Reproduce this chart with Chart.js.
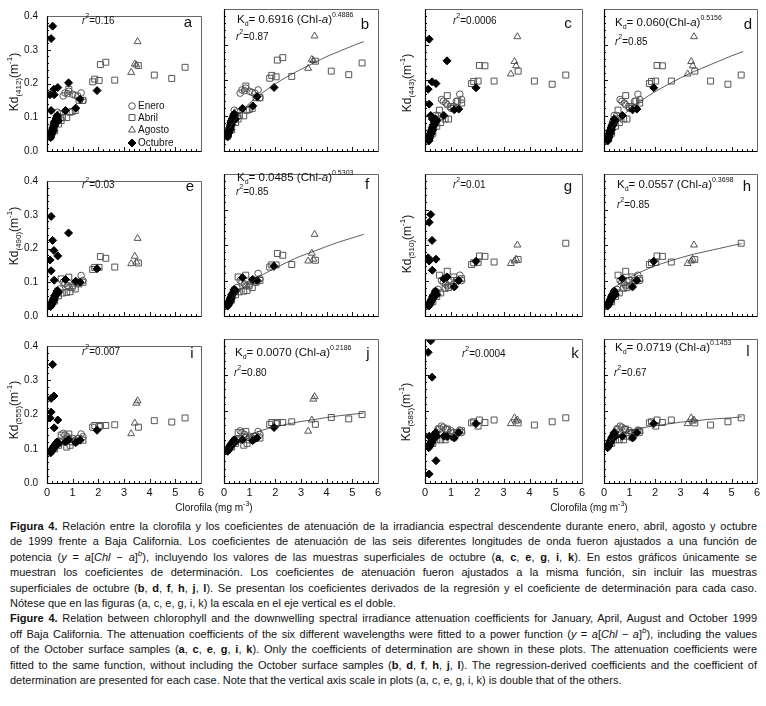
<!DOCTYPE html>
<html lang="es">
<head>
<meta charset="utf-8">
<title>Figura 4</title>
<script src="https://cdn.jsdelivr.net/npm/chart.js@4.4.1/dist/chart.umd.min.js"></script>
<style>
  html, body { margin: 0; padding: 0; background: #fff; }
  body { position: relative; width: 766px; height: 706px; overflow: hidden;
         font-family: "Liberation Sans", Arial, sans-serif; color: #111; }
  canvas { position: absolute; }
  .ann { position: absolute; white-space: nowrap; line-height: 1; color: #111;
         font-family: "Liberation Sans Narrow", "Liberation Sans", Arial, sans-serif;
         font-size: 10px; transform: translateY(-50%); }
  .ann.f { font-size: 11.5px; }
  .ann sup, .ann sub, .eje sup, .eje sub, .xt sup { position: relative; vertical-align: baseline; font-size: 7px; }
  .ann sup { top: -6px; }
  .ann sub { top: 3px; }
  .letra { position: absolute; font-size: 15px; line-height: 1; transform: translate(-50%, -50%); }
  .eje { position: absolute; white-space: nowrap; font-size: 12px; line-height: 1;
         transform: translate(-50%, -50%) rotate(-90deg); }
  .eje sub { top: 3px; font-size: 8px; }
  .eje sup { top: -6px; font-size: 8px; }
  .xt { position: absolute; white-space: nowrap; font-size: 10px; line-height: 1;
        font-family: "Liberation Sans Narrow", "Liberation Sans", Arial, sans-serif;
        transform: translate(-50%, -50%); }
  .xt sup { top: -5px; }
  #pie { position: absolute; left: 10px; top: 519px; width: 747px; font-size: 11px; line-height: 15.4px; color: #111; }
  #pie div { text-align: justify; text-align-last: justify; }
  #pie div.fin { text-align-last: left; }
  #pie sup { font-size: 8px; line-height: 0; }
</style>
</head>
<body>
<div id="pie">
  <div><b>Figura 4.</b> Relación entre la clorofila y los coeficientes de atenuación de la irradiancia espectral descendente durante enero, abril, agosto y octubre</div>
  <div>de 1999 frente a Baja California. Los coeficientes de atenuación de las seis diferentes longitudes de onda fueron ajustados a una función de</div>
  <div>potencia (<i>y</i> = <i>a</i>[<i>Chl</i> − <i>a</i>]<sup><i>b</i></sup>), incluyendo los valores de las muestras superficiales de octubre (<b>a</b>, <b>c</b>, <b>e</b>, <b>g</b>, <b>i</b>, <b>k</b>). En estos gráficos únicamente se</div>
  <div>muestran los coeficientes de determinación. Los coeficientes de atenuación fueron ajustados a la misma función, sin incluir las muestras</div>
  <div>superficiales de octubre (<b>b</b>, <b>d</b>, <b>f</b>, <b>h</b>, <b>j</b>, <b>l</b>). Se presentan los coeficientes derivados de la regresión y el coeficiente de determinación para cada caso.</div>
  <div class="fin">Nótese que en las figuras (a, c, e, g, i, k) la escala en el eje vertical es el doble.</div>
  <div><b>Figure 4.</b> Relation between chlorophyll and the downwelling spectral irradiance attenuation coefficients for January, April, August and October 1999</div>
  <div>off Baja California. The attenuation coefficients of the six different wavelengths were fitted to a power function (<i>y</i> = <i>a</i>[<i>Chl</i> − <i>a</i>]<sup><i>b</i></sup>), including the values</div>
  <div>of the October surface samples (<b>a</b>, <b>c</b>, <b>e</b>, <b>g</b>, <b>i</b>, <b>k</b>). Only the coefficients of determination are shown in these plots. The attenuation coefficients were</div>
  <div>fitted to the same function, without including the October surface samples (<b>b</b>, <b>d</b>, <b>f</b>, <b>h</b>, <b>j</b>, <b>l</b>). The regression-derived coefficients and the coefficient of</div>
  <div class="fin">determination are presented for each case. Note that the vertical axis scale in plots (a, c, e, g, i, k) is double that of the others.</div>
</div>
<script>
// ---- data ----
const meses = ['Enero', 'Abril', 'Agosto', 'Octubre'];
const bandas = ['412', '443', '490', '510', '555', '585'];
const letras = ['a', 'b', 'c', 'd', 'e', 'f', 'g', 'h', 'i', 'j', 'k', 'l'];
const r2Todas = ['0.16', '0.0006', '0.03', '0.01', '0.007', '0.0004'];
const r2SinSup = ['0.87', '0.85', '0.85', '0.85', '0.80', '0.67'];
const coefA = ['0.6916', '0.060', '0.0485', '0.0557', '0.0070', '0.0719'];
const coefB = ['0.4886', '0.5156', '0.5303', '0.3698', '0.2186', '0.1453'];

// chlorophyll (mg m-3) of each sample, per cruise
const eneroChl = [0.15, 0.18, 0.2, 0.22, 0.25, 0.28, 0.3, 0.33, 0.36, 0.4, 0.45, 0.5, 0.63, 0.7, 0.8, 0.85, 1.0, 1.1, 1.2, 1.33, 1.4];
const abrilChl = [0.3, 0.45, 0.55, 0.6, 0.77, 0.85, 0.9, 0.98, 1.1, 1.25, 1.4, 1.78, 1.86, 2.03, 2.08, 2.29, 2.64, 3.56, 4.18, 4.86, 5.38];
const agostoChl = [3.28, 3.42, 3.48, 3.53];
const octubreChl = [0.14, 0.15, 0.17, 0.18, 0.19, 0.2, 0.21, 0.22, 0.24, 0.25, 0.26, 0.27, 0.28, 0.3, 0.32, 0.34, 0.35, 0.38, 0.4, 0.45, 0.72, 1.12, 1.29, 1.95];
const octSupChl = [0.12, 0.16, 0.16, 0.22, 0.27, 0.28, 0.42, 0.84];

// Kd (m-1) per wavelength
const enero412 = [0.04, 0.05, 0.06, 0.055, 0.07, 0.08, 0.075, 0.09, 0.1, 0.115, 0.1, 0.11, 0.163, 0.172, 0.17, 0.177, 0.168, 0.165, 0.163, 0.172, 0.15];
const enero443 = [0.035, 0.045, 0.05, 0.05, 0.06, 0.07, 0.065, 0.08, 0.085, 0.1, 0.09, 0.1, 0.145, 0.14, 0.135, 0.13, 0.12, 0.125, 0.14, 0.16, 0.145];
const enero490 = [0.03, 0.035, 0.04, 0.04, 0.045, 0.05, 0.05, 0.06, 0.065, 0.075, 0.07, 0.08, 0.1, 0.095, 0.09, 0.085, 0.09, 0.1, 0.1, 0.12, 0.105];
const enero510 = [0.03, 0.035, 0.04, 0.04, 0.045, 0.05, 0.05, 0.055, 0.06, 0.07, 0.065, 0.075, 0.1, 0.095, 0.09, 0.085, 0.085, 0.09, 0.1, 0.115, 0.1];
const enero555 = [0.09, 0.095, 0.1, 0.1, 0.1, 0.105, 0.105, 0.11, 0.11, 0.12, 0.115, 0.12, 0.145, 0.14, 0.135, 0.13, 0.13, 0.125, 0.13, 0.143, 0.135];
const enero585 = [0.1, 0.105, 0.11, 0.11, 0.115, 0.12, 0.12, 0.125, 0.13, 0.135, 0.14, 0.15, 0.158, 0.155, 0.15, 0.148, 0.145, 0.14, 0.14, 0.147, 0.14];

const abril412 = [0.06, 0.08, 0.09, 0.1, 0.099, 0.183, 0.115, 0.117, 0.12, 0.15, 0.15, 0.205, 0.213, 0.209, 0.256, 0.263, 0.21, 0.253, 0.225, 0.215, 0.248];
const abril443 = [0.05, 0.07, 0.115, 0.08, 0.09, 0.156, 0.09, 0.125, 0.12, 0.14, 0.135, 0.19, 0.196, 0.197, 0.241, 0.24, 0.197, 0.225, 0.197, 0.188, 0.214];
const abril490 = [0.045, 0.06, 0.11, 0.068, 0.07, 0.115, 0.072, 0.085, 0.08, 0.095, 0.1, 0.138, 0.144, 0.144, 0.176, 0.171, 0.145, 0.157, null, null, null];
const abril510 = [0.04, 0.055, 0.115, 0.065, 0.078, 0.126, 0.08, 0.1, 0.11, 0.1, 0.105, 0.145, 0.15, 0.151, 0.169, 0.168, 0.152, 0.159, null, null, 0.205];
const abril555 = [0.1, 0.11, 0.14, 0.12, 0.105, 0.143, 0.11, 0.12, 0.12, 0.13, 0.125, 0.163, 0.168, 0.165, 0.168, 0.168, 0.17, 0.163, 0.182, 0.178, 0.19];
const abril585 = [0.11, 0.12, 0.15, 0.12, 0.12, 0.15, 0.13, 0.14, 0.127, 0.14, 0.145, 0.167, 0.17, 0.158, 0.175, 0.168, 0.175, 0.167, 0.161, 0.17, 0.181];

const agosto412 = [0.233, 0.258, 0.255, 0.324];
const agosto443 = [0.217, 0.252, 0.24, 0.322];
const agosto490 = [0.155, 0.177, 0.16, 0.23];
const agosto510 = [0.148, 0.155, 0.16, 0.2];
const agosto555 = [0.144, 0.175, 0.233, 0.24];
const agosto585 = [0.165, 0.181, 0.172, 0.175];

const oct412 = [0.04, 0.045, 0.05, 0.052, 0.055, 0.06, 0.058, 0.065, 0.07, 0.06, 0.075, 0.08, 0.085, 0.075, 0.09, 0.088, 0.095, 0.1, 0.105, 0.09, 0.12, 0.127, 0.153, 0.179];
const oct443 = [0.028, 0.03, 0.035, 0.038, 0.04, 0.045, 0.048, 0.05, 0.055, 0.05, 0.058, 0.06, 0.065, 0.06, 0.07, 0.072, 0.075, 0.08, 0.09, 0.085, 0.1, 0.116, 0.118, 0.178];
const oct490 = [0.028, 0.03, 0.035, 0.034, 0.035, 0.04, 0.042, 0.04, 0.045, 0.05, 0.048, 0.05, 0.055, 0.06, 0.06, 0.062, 0.065, 0.07, 0.075, 0.07, 0.108, 0.103, 0.1, 0.14];
const oct510 = [0.028, 0.03, 0.033, 0.034, 0.035, 0.038, 0.04, 0.04, 0.042, 0.045, 0.046, 0.048, 0.05, 0.055, 0.058, 0.06, 0.06, 0.065, 0.07, 0.06, 0.105, 0.082, 0.1, 0.154];
const oct555 = [0.088, 0.09, 0.092, 0.094, 0.095, 0.097, 0.098, 0.1, 0.1, 0.102, 0.104, 0.105, 0.107, 0.11, 0.112, 0.113, 0.115, 0.118, 0.12, 0.115, 0.12, 0.118, 0.125, 0.154];
const oct585 = [0.098, 0.1, 0.102, 0.104, 0.105, 0.108, 0.109, 0.11, 0.112, 0.115, 0.116, 0.118, 0.12, 0.125, 0.128, 0.129, 0.13, 0.135, 0.14, 0.13, 0.13, 0.125, 0.14, 0.165];

// October surface samples (only in a, c, e, g, i, k)
const octSup412 = [0.167, 0.333, 0.12, 0.37, 0.183, 0.167, 0.188, 0.202];
const octSup443 = [0.174, 0.315, 0.132, 0.1, 0.195, 0.09, 0.19, 0.254];
const octSup490 = [0.166, 0.295, 0.134, 0.224, 0.194, 0.106, 0.178, 0.246];
const octSup510 = [0.164, 0.264, 0.155, 0.286, 0.213, 0.129, 0.16, 0.11];
const octSup555 = [0.19, 0.247, 0.207, 0.346, 0.254, 0.161, 0.184, 0.126];
const octSup585 = [0.363, 0.025, 0.13, 0.395, 0.294, 0.12, 0.062, 0.129];

// fitted curves, points
const ajuste412 = [[0.2, 0.063], [0.5, 0.095], [1, 0.135], [1.5, 0.164], [2, 0.189], [2.5, 0.211], [3, 0.23], [3.5, 0.248], [4, 0.266], [4.5, 0.281], [5, 0.296], [5.44, 0.308]];
const ajuste443 = [[0.3, 0.063], [0.5, 0.082], [1, 0.117], [1.5, 0.144], [2, 0.167], [2.5, 0.187], [3, 0.206], [3.5, 0.223], [4, 0.238], [4.5, 0.253], [5, 0.268], [5.46, 0.28]];
const ajuste490 = [[0.25, 0.045], [0.5, 0.065], [1, 0.094], [1.5, 0.116], [2, 0.135], [2.5, 0.153], [3, 0.169], [3.5, 0.182], [4, 0.196], [4.5, 0.209], [5, 0.22], [5.44, 0.23]];
const ajuste510 = [[0.25, 0.065], [0.5, 0.085], [1, 0.109], [1.5, 0.126], [2, 0.141], [2.5, 0.153], [3, 0.164], [3.5, 0.174], [4, 0.182], [4.5, 0.19], [5, 0.198], [5.4, 0.204]];
const ajuste555 = [[0.2, 0.095], [0.5, 0.115], [1, 0.134], [1.5, 0.147], [2, 0.156], [2.5, 0.164], [3, 0.171], [3.5, 0.176], [4, 0.182], [4.5, 0.187], [5, 0.191], [5.44, 0.194]];
const ajuste585 = [[0.2, 0.115], [0.5, 0.13], [1, 0.144], [1.5, 0.153], [2, 0.159], [2.5, 0.164], [3, 0.169], [3.5, 0.172], [4, 0.176], [4.5, 0.179], [5, 0.181], [5.4, 0.184]];

const eneroKd = [enero412, enero443, enero490, enero510, enero555, enero585];
const abrilKd = [abril412, abril443, abril490, abril510, abril555, abril585];
const agostoKd = [agosto412, agosto443, agosto490, agosto510, agosto555, agosto585];
const octKd = [oct412, oct443, oct490, oct510, oct555, oct585];
const octSupKd = [octSup412, octSup443, octSup490, octSup510, octSup555, octSup585];
const ajustes = [ajuste412, ajuste443, ajuste490, ajuste510, ajuste555, ajuste585];

// ---- layout ----
const colX = [[47, 201], [224, 378], [425, 582], [604, 757]];
const rowY = [[9, 151], [174, 316], [339, 483]];
const PL = 40, PT = 8, PR = 8, PB = 20;
const fuente = '"Liberation Sans Narrow", "Liberation Sans", Arial, sans-serif';

const posLetra = [[188, 21], [365, 23], [568, 22], [748, 23], [190, 185], [367, 183], [568, 185], [747, 185], [192, 352], [368, 352], [575, 352], [748, 350]];
const posR2Todas = [[82, 21], [453, 21], [82, 185], [453, 185], [82, 352], [462, 354]];
const posFormula = [[237, 20], [615, 23], [237, 178], [617, 185], [235, 353], [615, 348]];
const posR2Sin = [[236, 37], [615, 42], [236, 192], [617, 205], [234, 373], [614, 373]];
const posEje = [[14, 82], [407, 83], [14, 236], [407, 244], [14, 410], [406, 412]];

const estilos = [
  { pointStyle: 'circle', radius: 3.3, borderColor: '#555', backgroundColor: 'rgba(0,0,0,0)' },
  { pointStyle: 'rect', radius: 4.2, borderColor: '#555', backgroundColor: 'rgba(0,0,0,0)' },
  { pointStyle: 'triangle', radius: 4, borderColor: '#555', backgroundColor: 'rgba(0,0,0,0)' },
  { pointStyle: 'rectRot', radius: 4, borderColor: '#000', backgroundColor: '#000' }
];

function pares(xs, ys) {
  return xs.map((x, i) => ({ x: x, y: ys[i] })).filter(p => p.y !== null);
}

const marco = {
  id: 'marco',
  afterDatasetsDraw(chart) {
    const { ctx, chartArea: ca, scales: { x, y } } = chart;
    ctx.save();
    ctx.lineWidth = 1;
    ctx.strokeStyle = '#111';
    ctx.beginPath();
    for (let i = 0; i <= 30; i++) {
      const px = Math.round(x.getPixelForValue(i * 0.2)) + 0.5;
      const len = i % 5 === 0 ? 4 : 2;
      ctx.moveTo(px, ca.bottom);
      ctx.lineTo(px, ca.bottom - len);
    }
    for (let i = 0; i <= 20; i++) {
      const py = Math.round(y.getPixelForValue(i * 0.02)) + 0.5;
      const len = i % 5 === 0 ? 4 : 2;
      ctx.moveTo(ca.left, py);
      ctx.lineTo(ca.left + len, py);
    }
    ctx.stroke();
    const l = Math.round(ca.left) + 0.5, r = Math.round(ca.right) + 0.5;
    const t = Math.round(ca.top) + 0.5, b = Math.round(ca.bottom) + 0.5;
    ctx.strokeStyle = '#666';
    ctx.beginPath();
    ctx.moveTo(l, t); ctx.lineTo(r, t); ctx.lineTo(r, b);
    ctx.stroke();
    ctx.strokeStyle = '#000';
    ctx.lineWidth = 1.2;
    ctx.beginPath();
    ctx.moveTo(l, t); ctx.lineTo(l, b); ctx.lineTo(r, b);
    ctx.stroke();
    ctx.restore();
  }
};

// legend drawn inside panel a
const leyenda = {
  id: 'leyenda',
  afterDraw(chart, args, opts) {
    if (!opts.mostrar) return;
    const { ctx, chartArea: ca } = chart;
    const filas = [90, 101.5, 114, 127];
    ctx.save();
    ctx.font = '10px ' + fuente;
    ctx.textBaseline = 'middle';
    ctx.fillStyle = '#111';
    meses.forEach((m, i) => {
      const e = estilos[i];
      const x = ca.left + 85, y = ca.top + filas[i];
      ctx.strokeStyle = e.borderColor;
      ctx.fillStyle = e.backgroundColor;
      ctx.lineWidth = 1;
      Chart.helpers.drawPoint(ctx, { pointStyle: e.pointStyle, radius: e.radius, borderWidth: 1, rotation: 0 }, x, y);
      ctx.fillStyle = '#111';
      ctx.fillText(m, x + 6, y + 0.5);
    });
    ctx.restore();
  }
};

function panel(n, b, conSup) {
  const row = Math.floor(n / 4), col = n % 4;
  const [x0, x1] = colX[col];
  const [y0, y1] = rowY[row];
  const cv = document.createElement('canvas');
  cv.width = x1 - x0 + PL + PR;
  cv.height = y1 - y0 + PT + PB;
  cv.style.left = (x0 - PL) + 'px';
  cv.style.top = (y0 - PT) + 'px';
  document.body.appendChild(cv);

  const grupos = [
    pares(eneroChl, eneroKd[b]),
    pares(abrilChl, abrilKd[b]),
    pares(agostoChl, agostoKd[b]),
    conSup ? pares(octubreChl, octKd[b]).concat(pares(octSupChl, octSupKd[b])) : pares(octubreChl, octKd[b])
  ];
  const datasets = [];
  if (!conSup) {
    datasets.push({
      type: 'line', label: 'ajuste', data: ajustes[b].map(p => ({ x: p[0], y: p[1] })),
      borderColor: '#333', borderWidth: 0.8, pointRadius: 0, fill: false,
      cubicInterpolationMode: 'monotone', order: 0
    });
  }
  // october first so the filled diamonds end up on top
  [3, 0, 1, 2].forEach(i => {
    const e = estilos[i];
    datasets.push({
      type: 'scatter', label: meses[i], data: grupos[i],
      pointStyle: e.pointStyle, pointRadius: e.radius, pointBorderWidth: 1,
      pointBorderColor: e.borderColor, pointBackgroundColor: e.backgroundColor,
      order: 1
    });
  });

  new Chart(cv, {
    type: 'scatter',
    data: { datasets: datasets },
    options: {
      responsive: false, animation: false, devicePixelRatio: 1,
      layout: { padding: { left: 0, top: PT, right: PR, bottom: 0 } },
      plugins: {
        legend: { display: false },
        tooltip: { enabled: false },
        leyenda: { mostrar: n === 0 }
      },
      scales: {
        x: {
          type: 'linear', min: 0, max: 6,
          grid: { display: false, drawTicks: false }, border: { display: false },
          ticks: { display: row === 2, stepSize: 1, padding: 3, color: '#111', font: { family: fuente, size: 11 } },
          afterFit(s) { s.height = PB; }
        },
        y: {
          type: 'linear', min: 0, max: 0.4,
          grid: { display: false, drawTicks: false }, border: { display: false },
          ticks: { display: col === 0, stepSize: 0.1, padding: 9, color: '#111', font: { family: fuente, size: 10 },
                   callback: v => v.toFixed(1) },
          afterFit(s) { s.width = PL; }
        }
      }
    },
    plugins: [marco, leyenda]
  });
}

function texto(cls, html, x, y) {
  const d = document.createElement('div');
  d.className = cls;
  d.innerHTML = html;
  d.style.left = x + 'px';
  d.style.top = y + 'px';
  document.body.appendChild(d);
}

bandas.forEach((banda, b) => {
  const row = Math.floor(b / 2);
  const nTodas = row * 4 + (b % 2) * 2;
  const nSin = nTodas + 1;
  panel(nTodas, b, true);
  panel(nSin, b, false);

  texto('eje', 'Kd<sub>(' + banda + ')</sub>(m<sup>-1</sup>)', posEje[b][0], posEje[b][1]);
  texto('ann', '<i>r</i><sup>2</sup>=' + r2Todas[b], posR2Todas[b][0], posR2Todas[b][1]);
  const sep = b === 1 ? '' : ' ';
  texto('ann f', 'K<sub>d</sub>= ' + coefA[b] + sep + '(Chl-<i>a</i>)<sup>' + coefB[b] + '</sup>', posFormula[b][0], posFormula[b][1]);
  texto('ann', '<i>r</i><sup>2</sup>=' + r2SinSup[b], posR2Sin[b][0], posR2Sin[b][1]);
});

letras.forEach((l, n) => texto('letra', l, posLetra[n][0], posLetra[n][1]));
texto('xt', 'Clorofila (mg m<sup>-3</sup>)', 214, 508);
texto('xt', 'Clorofila (mg m<sup>-3</sup>)', 589, 508);
</script>
</body>
</html>
